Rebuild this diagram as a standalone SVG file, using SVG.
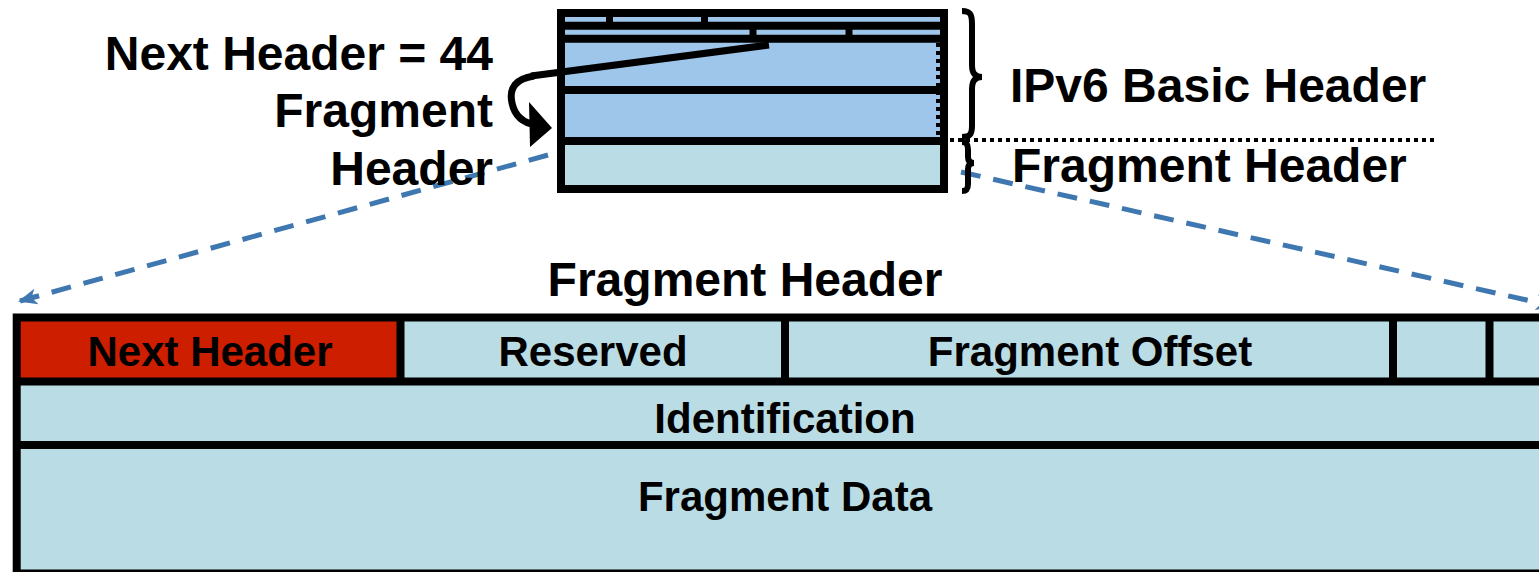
<svg xmlns="http://www.w3.org/2000/svg" width="1539" height="572" viewBox="0 0 1539 572">
<defs>
<style>
.t{font-family:"Liberation Sans",Arial,sans-serif;font-weight:bold;fill:#000}
.big{font-size:48px}
.cell{font-size:42px;text-anchor:middle}
.blk{stroke:#000;fill:none}
.dash{stroke:#3F78B0;stroke-width:5;fill:none;stroke-dasharray:20 13}
</style>
<marker id="ah" markerUnits="userSpaceOnUse" markerWidth="20" markerHeight="18" refX="17" refY="9" orient="auto">
<path d="M0 1 L19 9 L0 17 L5 9 z" fill="#3F78B0"/>
</marker>
</defs>
<rect width="1539" height="572" fill="#fff"/>

<g id="connectors">
<path class="dash" d="M548 155 L20 301" marker-end="url(#ah)"/>
<path class="dash" d="M961 172 L1553 306" marker-end="url(#ah)"/>
</g>

<g id="packet">
<rect x="561" y="13" width="383" height="128" fill="#9DC6EA"/>
<rect x="561" y="141" width="383" height="48" fill="#BADCE4"/>
<line class="blk" x1="561" y1="25.8" x2="944" y2="25.8" stroke-width="8"/>
<line class="blk" x1="561" y1="38.8" x2="944" y2="38.8" stroke-width="8"/>
<line class="blk" x1="561" y1="90" x2="944" y2="90" stroke-width="8"/>
<line class="blk" x1="561" y1="141" x2="944" y2="141" stroke-width="8"/>
<line class="blk" x1="609.5" y1="13" x2="609.5" y2="26" stroke-width="7"/>
<line class="blk" x1="704.5" y1="13" x2="704.5" y2="26" stroke-width="7"/>
<line class="blk" x1="753" y1="26" x2="753" y2="39" stroke-width="7"/>
<line class="blk" x1="849" y1="26" x2="849" y2="39" stroke-width="7"/>
<line class="blk" x1="938.5" y1="43" x2="938.5" y2="137" stroke-width="5" stroke-dasharray="4 4"/>
<rect class="blk" x="561" y="13" width="383" height="176" stroke-width="8"/>
</g>

<g id="pointer">
<path class="blk" d="M769 45 L531 76" stroke-width="7"/>
<path class="blk" d="M534 76 Q507 80 512 103 Q516 122 536 125" stroke-width="7"/>
<path d="M529 102 L552 128 L530 147 z" fill="#000"/>
</g>

<g id="braces">
<path class="blk" stroke-width="6" d="M962 11 C971 11 972 15 972 25 L972 65 C972 73 975 77 982 77 C975 77 972 81 972 89 L972 126 C972 134 970 137 962 137"/>
<path class="blk" stroke-width="6" d="M962 142 C967 142 968 145 968 150 L968 157 C968 161 970 163 974 163 C970 163 968 165 968 169 L968 184 C968 189 967 191 962 191"/>
<line class="blk" x1="950" y1="140" x2="1437" y2="140" stroke-width="4" stroke-dasharray="4 4"/>
</g>

<g id="labels">
<text class="t big" x="493" y="70" text-anchor="end">Next Header = 44</text>
<text class="t big" x="493" y="127" text-anchor="end">Fragment</text>
<text class="t big" x="493" y="185" text-anchor="end">Header</text>
<text class="t big" x="1010" y="102">IPv6 Basic Header</text>
<text class="t big" x="1012" y="182">Fragment Header</text>
<text class="t big" x="745" y="296" text-anchor="middle">Fragment Header</text>
</g>

<g id="fragment-table">
<rect x="16.7" y="317.5" width="1545" height="256" fill="#BADCE4"/>
<rect x="16.7" y="317.5" width="383.8" height="64" fill="#CD1E00"/>
<line class="blk" x1="16.7" y1="381.5" x2="1562" y2="381.5" stroke-width="8"/>
<line class="blk" x1="16.7" y1="445" x2="1562" y2="445" stroke-width="8"/>
<line class="blk" x1="400.5" y1="317.5" x2="400.5" y2="381.5" stroke-width="8"/>
<line class="blk" x1="785" y1="317.5" x2="785" y2="381.5" stroke-width="8"/>
<line class="blk" x1="1393" y1="317.5" x2="1393" y2="381.5" stroke-width="8"/>
<line class="blk" x1="1489.5" y1="317.5" x2="1489.5" y2="381.5" stroke-width="8"/>
<rect class="blk" x="16.7" y="317.5" width="1545" height="256" stroke-width="8"/>
<text class="t cell" x="210" y="366">Next Header</text>
<text class="t cell" x="593" y="366">Reserved</text>
<text class="t cell" x="1090" y="366">Fragment Offset</text>
<text class="t cell" x="785" y="433">Identification</text>
<text class="t cell" x="785" y="511">Fragment Data</text>
</g>
</svg>
